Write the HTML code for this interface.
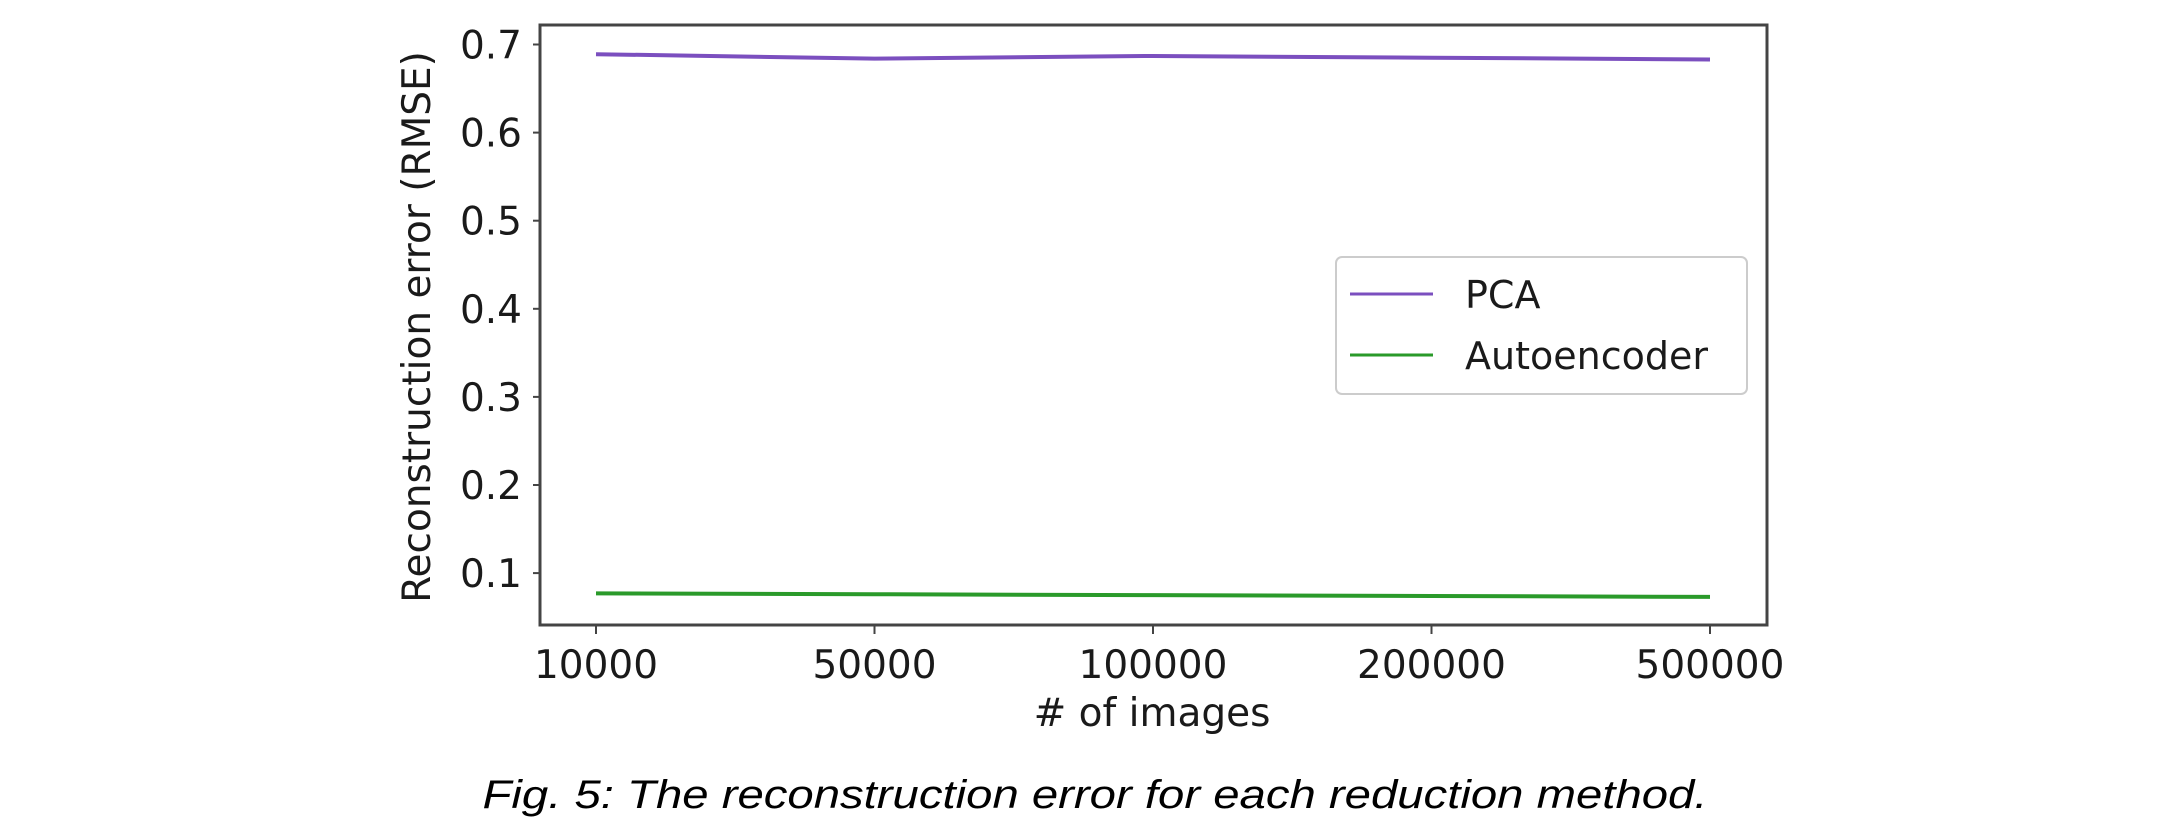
<!DOCTYPE html>
<html><head><meta charset="utf-8"><style>
html,body{margin:0;padding:0;background:#fff;width:2182px;height:832px;overflow:hidden}
svg{display:block}
text{font-family:"DejaVu Sans","Liberation Sans",sans-serif;fill:#1a1a1a}
</style></head><body>
<svg id="chart" width="2182" height="832" viewBox="0 0 2182 832" xmlns="http://www.w3.org/2000/svg">
<rect x="540" y="25" width="1227" height="600" fill="#fff"/>
<g id="grid"></g>
<g id="series"></g>
<rect x="540" y="25" width="1227" height="600" fill="none" stroke="#444" stroke-width="3"/>
<g id="axes"></g>
<text x="1152" y="726" font-size="39" text-anchor="middle"># of images</text>
<text transform="translate(430,327) rotate(-90)" font-size="39" text-anchor="middle">Reconstruction error (RMSE)</text>
<g>
<rect x="1336" y="257" width="411" height="137" rx="6" fill="#fff" stroke="#ccc" stroke-width="2"/>
<line x1="1350" y1="294" x2="1433" y2="294" stroke="#7b4fbf" stroke-width="3"/>
<text x="1465" y="308" font-size="38">PCA</text>
<line x1="1350" y1="355" x2="1433" y2="355" stroke="#2a9a2a" stroke-width="3"/>
<text x="1465" y="369" font-size="38">Autoencoder</text>
</g>
<text x="1095" y="808" font-size="40" text-anchor="middle" font-style="italic" textLength="1225" lengthAdjust="spacingAndGlyphs" style="font-family:'Liberation Sans',sans-serif;fill:#000">Fig. 5: The reconstruction error for each reduction method.</text>
</svg>
<script>
const categories = ["10000","50000","100000","200000","500000"];
const pcaValues = [0.689, 0.684, 0.687, 0.685, 0.683];
const autoencoderValues = [0.077, 0.076, 0.075, 0.074, 0.073];
const yTicks = [0.1,0.2,0.3,0.4,0.5,0.6,0.7];
const yTickLabels = ["0.1","0.2","0.3","0.4","0.5","0.6","0.7"];

const NS="http://www.w3.org/2000/svg";
const x0=596, x1=1710, yv0=0.7, yp0=44.5, pxPer=881;
function xs(i){return x0+(x1-x0)*i/(categories.length-1);}
function ys(v){return yp0+(yv0-v)*pxPer;}
const axes=document.getElementById('axes'), series=document.getElementById('series');
function mk(t,a,p){const e=document.createElementNS(NS,t);for(const k in a)e.setAttribute(k,a[k]);p.appendChild(e);return e;}
yTicks.forEach((v,i)=>{
  const y=ys(v);
  const t=mk('line',{x1:533,x2:540,y1:y,y2:y,stroke:'#444','stroke-width':2},axes);
  
  
  const l=mk('text',{x:522,y:y+14,'font-size':39,'text-anchor':'end'},axes);
  l.textContent=yTickLabels[i];
  
  
});
categories.forEach((c,i)=>{
  const x=xs(i);
  const t=mk('line',{x1:x,x2:x,y1:625,y2:634,stroke:'#444','stroke-width':2},axes);
  
  
  const l=mk('text',{x:x,y:678,'font-size':39,'text-anchor':'middle'},axes);
  l.textContent=c;
  
  
});
function line(vals,color,name){
  const p=mk('polyline',{points:vals.map((v,i)=>xs(i)+','+ys(v)).join(' '),fill:'none',stroke:color,'stroke-width':4},series);
  
  
}
line(pcaValues,'#7b4fbf','pca-line');
line(autoencoderValues,'#2a9a2a','autoencoder-line');
</script>
</body></html>
